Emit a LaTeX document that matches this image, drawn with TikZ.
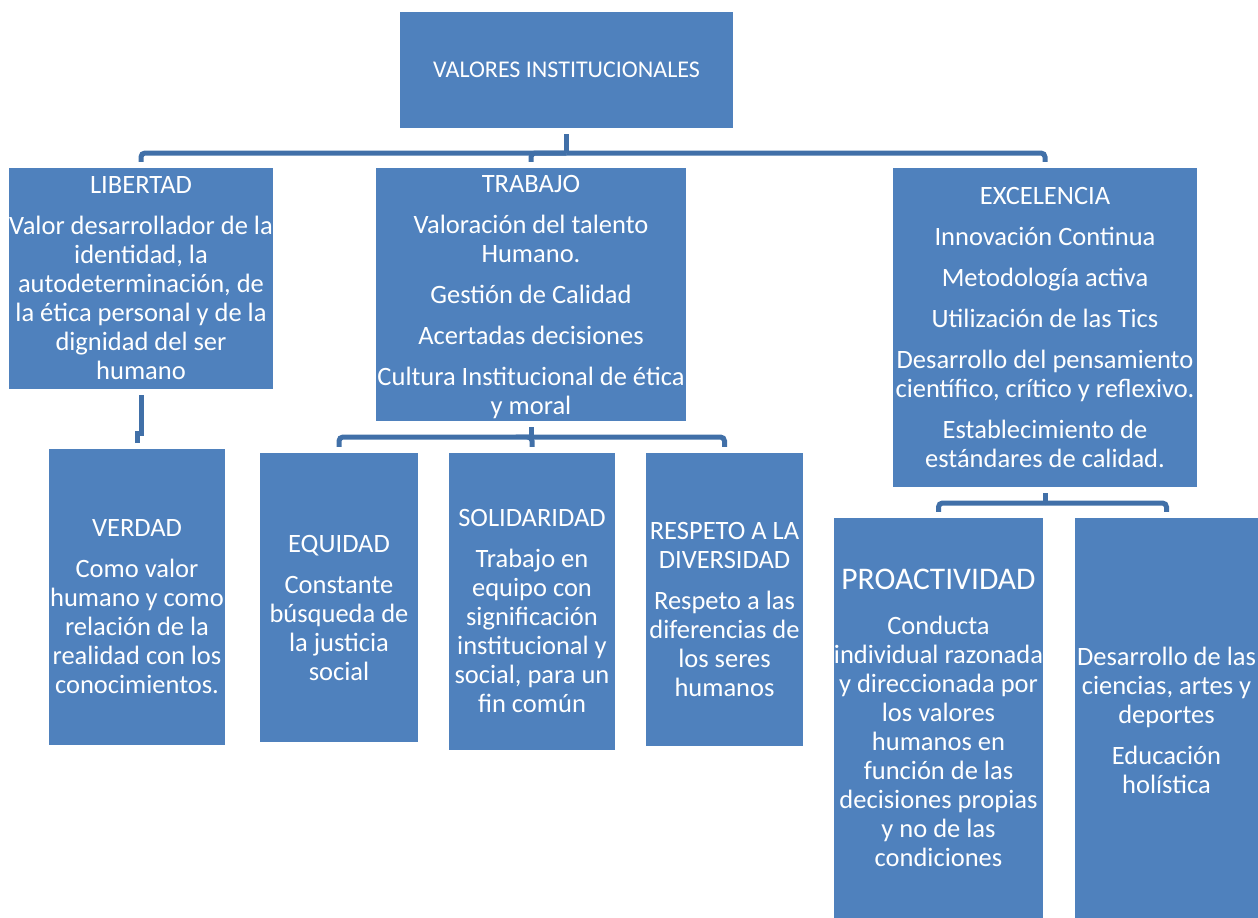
\documentclass[tikz,border=0pt]{standalone}
\usepackage{fontspec}
\setmainfont{Carlito}
\definecolor{boxblue}{HTML}{4F81BD}
\definecolor{lineblue}{HTML}{4170A8}
\newcommand{\pgap}{\\[12pt]}
\newcommand{\topgap}[1]{\rule{0pt}{#1}}

\begin{document}
\begin{tikzpicture}[x=1pt,y=-1pt,
    value node/.style={rectangle,fill=boxblue,text=white,align=center,inner sep=0pt,font=\fontsize{26.5}{29}\selectfont},
    tree line/.style={draw=lineblue,line width=5pt}]
  \useasboundingbox (0,0) rectangle (1258,918);
  % level 0
  \node[value node,minimum width=333pt,minimum height=116pt,font=\fontsize{24}{29}\selectfont] (top) at (566.5,70) {VALORES INSTITUCIONALES};
  % level 1
  \node[value node,minimum width=264pt,minimum height=221pt] (lib) at (141,278.5) {LIBERTAD\pgap
    Valor desarrollador de la\\ identidad, la\\ autodeterminación, de\\ la ética personal y de la\\ dignidad del ser\\ humano};
  \node[value node,minimum width=310pt,minimum height=253pt] (trab) at (531,294.5) {\topgap{23pt}TRABAJO\pgap
    Valoración del talento\\ Humano.\pgap Gestión de Calidad\pgap Acertadas decisiones\pgap
    Cultura Institucional de ética\\ y moral};
  \node[value node,minimum width=304pt,minimum height=319pt] (exc) at (1045,327.5) {EXCELENCIA\pgap
    Innovación Continua\pgap Metodología activa\pgap Utilización de las Tics\pgap
    Desarrollo del pensamiento\\ científico, crítico y reflexivo.\pgap
    Establecimiento de\\ estándares de calidad.};
  % level 2
  \node[value node,minimum width=176pt,minimum height=296pt] (ver) at (137,597) {\topgap{37pt}VERDAD\pgap
    Como valor\\ humano y como\\ relación de la\\ realidad con los\\ conocimientos.};
  \node[value node,minimum width=158pt,minimum height=289pt] (equ) at (339,597.5) {\topgap{39pt}EQUIDAD\pgap
    Constante\\ búsqueda de\\ la justicia\\ social};
  \node[value node,minimum width=166pt,minimum height=297pt] (sol) at (532,601.5) {\topgap{37pt}SOLIDARIDAD\pgap
    Trabajo en\\ equipo con\\ significación\\ institucional y\\ social, para un\\ fin común};
  \node[value node,minimum width=157pt,minimum height=293pt] (res) at (724.5,599.5) {\topgap{37pt}RESPETO A LA\\ DIVERSIDAD\pgap
    Respeto a las\\ diferencias de\\ los seres\\ humanos};
  \node[value node,minimum width=209pt,minimum height=400pt] (pro) at (938.5,718) {{\fontsize{31.5}{34}\selectfont PROACTIVIDAD}\\[16pt]
    Conducta\\ individual razonada\\ y direccionada por\\ los valores\\ humanos en\\ función de las\\ decisiones propias\\ y no de las\\ condiciones};
  \node[value node,minimum width=183pt,minimum height=400pt] (des) at (1166.5,718) {\topgap{24pt}Desarrollo de las\\ ciencias, artes y\\ deportes\pgap
    Educación\\ holística};
  % bus lines
  \coordinate (bus a) at (0,153);
  \coordinate (bus b) at (0,437);
  \coordinate (bus c) at (0,503);
  \coordinate (jog) at (0,433);
  \draw[tree line,shorten <=6pt] (top.south) -- (top.south |- bus a);
  \draw[tree line,rounded corners=4pt,shorten >=6pt] (top.south |- bus a) -| (lib.north);
  \draw[tree line,rounded corners=4pt,shorten >=6pt] (top.south |- bus a) -| (trab.north);
  \draw[tree line,rounded corners=4pt,shorten >=6pt] (top.south |- bus a) -| (exc.north);
  \draw[tree line,shorten <=6pt,shorten >=6pt] (lib.south) -- (lib.south |- jog) -| (ver.north);
  \draw[tree line,shorten <=6pt] (trab.south) -- (trab.south |- bus b);
  \draw[tree line,rounded corners=4pt,shorten >=6pt] (trab.south |- bus b) -| (equ.north);
  \draw[tree line,rounded corners=4pt,shorten >=6pt] (trab.south |- bus b) -| (sol.north);
  \draw[tree line,rounded corners=4pt,shorten >=6pt] (trab.south |- bus b) -| (res.north);
  \draw[tree line,shorten <=6pt] (exc.south) -- (exc.south |- bus c);
  \draw[tree line,rounded corners=4pt,shorten >=6pt] (exc.south |- bus c) -| (pro.north);
  \draw[tree line,rounded corners=4pt,shorten >=6pt] (exc.south |- bus c) -| (des.north);
\end{tikzpicture}
\end{document}
